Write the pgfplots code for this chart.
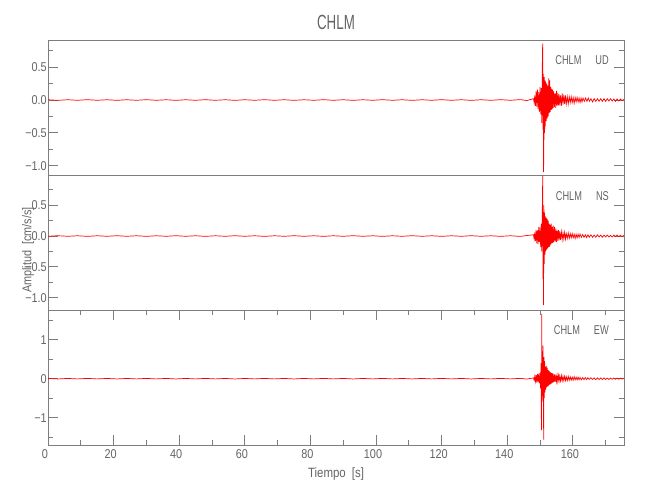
\documentclass[border=0pt]{standalone}
\usepackage{pgfplots}
\pgfplotsset{compat=1.18}
\usepackage{fontspec}
\setmainfont{Liberation Sans}[FakeStretch=0.85]
\newfontfamily\titlefont{Liberation Sans}[FakeStretch=0.65]
\newfontfamily\stafont{Liberation Sans}[FakeStretch=0.72]

\definecolor{axc}{RGB}{125,125,125}
\definecolor{txc}{RGB}{100,100,100}

\pgfplotsset{
  seis/.style={
    scale only axis, width=576pt, height=135pt,
    xmin=0, xmax=175.6,
    axis line style={axc, line width=0.9pt},
    every tick/.style={axc, line width=0.9pt},
    tick align=inside,
    major tick length=10pt, minor tick length=5pt,
    ticklabel style={font=\fontsize{12.8}{14}\selectfont, text=txc},
    yticklabel style={inner sep=0pt, xshift=-1pt},
    xtick=\empty,
    minor xtick={10,20,...,170},
  },
  trace/.style={red, line width=0.7pt},
}

\begin{document}
\begin{tikzpicture}
\useasboundingbox (0,0) rectangle (650pt,500pt);

% UD
\begin{axis}[seis, at={(48pt,325pt)}, anchor=south west,
  ymin=-1.143, ymax=0.915,
  ytick={-1,-0.5,0,0.5}, yticklabels={−1.0,−0.5,0.0,0.5},
  minor ytick={-0.75,-0.25,0.25,0.75}]
\addplot[trace] coordinates {
(0,0.004) (3,-0.005) (6,0.004) (9,-0.004) (12,0.005) (15,-0.004) (18,0.004) (21,-0.005)
(24,0.004) (27,-0.004) (30,0.005) (33,-0.004) (36,0.004) (39,-0.005) (42,0.004) (45,-0.004)
(48,0.005) (51,-0.004) (54,0.004) (57,-0.005) (60,0.004) (63,-0.004) (66,0.005) (69,-0.004)
(72,0.004) (75,-0.005) (78,0.004) (81,-0.004) (84,0.005) (87,-0.004) (90,0.004) (93,-0.005)
(96,0.004) (99,-0.004) (102,0.005) (105,-0.004) (108,0.004) (111,-0.005) (114,0.004) (117,-0.004)
(120,0.005) (123,-0.004) (126,0.004) (129,-0.005) (132,0.004) (135,-0.004) (138,0.005) (141,-0.004)
(144,0.006) (146,-0.008) (148.0,0.02)
(148.2,-0.04) (148.4,0.07) (148.6,-0.09) (148.8,0.13) (149.0,-0.10) (149.2,0.16) (149.4,-0.14)
(149.6,0.12) (149.8,-0.18) (150.0,0.20) (150.2,-0.22) (150.4,0.18) (150.55,-0.35) (150.7,0.55)
(150.8,0.86) (150.9,-0.45) (151.0,0.40) (151.08,-1.10) (151.18,-0.60) (151.28,0.35) (151.4,-0.50)
(151.5,0.30) (151.62,-0.40) (151.75,0.28) (151.9,-0.32) (152.05,0.25) (152.2,-0.28) (152.35,0.22)
(152.5,-0.25) (152.65,0.33) (152.8,-0.20) (152.95,0.30) (153.1,-0.18) (153.25,0.20) (153.4,-0.15)
(153.55,0.17) (153.7,-0.14) (153.85,0.16) (154.0,-0.12) (154.2,0.13) (154.4,-0.11) (154.6,0.10)
(154.8,-0.12) (155.0,0.14) (155.2,-0.09) (155.4,0.11) (155.6,-0.08) (155.8,0.09) (156.0,-0.08)
(156.25,0.07) (156.5,-0.09) (156.75,0.10) (157.0,-0.07) (157.25,0.08) (157.5,-0.06) (157.75,0.07)
(158.0,-0.06) (158.3,0.05) (158.6,-0.06) (158.9,0.05) (159.2,-0.04) (159.5,0.05) (159.8,-0.04)
(160.1,0.04) (160.4,-0.05) (160.7,0.04) (161.0,-0.03) (161.3,0.04) (161.6,-0.03) (161.9,0.03)
(162.2,-0.04) (162.5,0.03) (162.8,-0.03) (163.1,0.03) (163.5,-0.02) (163.9,0.03) (164.3,-0.02)
(164.7,0.03) (165.1,-0.02) (165.5,0.02) (166.0,-0.03) (166.5,0.02) (167.0,-0.02) (167.5,0.02)
(168.0,-0.02) (168.5,0.02) (169.0,-0.02) (169.5,0.02) (170.0,-0.02) (170.5,0.02) (171.0,-0.015)
(171.5,0.02) (172.0,-0.015) (172.5,0.015) (173.0,-0.02) (173.5,0.015) (174.0,-0.015) (174.5,0.015)
(175.0,-0.01) (175.5,0.01)
};
\node[anchor=north east, inner sep=0pt, text=txc, font=\stafont\fontsize{12.8}{14}\selectfont]
  at ([xshift=-15pt,yshift=-15pt]rel axis cs:1,1) {CHLM\hspace{14pt}UD};
\end{axis}

% NS
\begin{axis}[seis, at={(48pt,190pt)}, anchor=south west,
  ymin=-1.2, ymax=0.99,
  ytick={-1,-0.5,0,0.5}, yticklabels={−1.0,−0.5,0.0,0.5},
  minor ytick={-0.75,-0.25,0.25,0.75}]
\addplot[trace] coordinates {
(0,-0.004) (3,0.005) (6,-0.004) (9,0.004) (12,-0.005) (15,0.004) (18,-0.004) (21,0.005)
(24,-0.004) (27,0.004) (30,-0.005) (33,0.004) (36,-0.004) (39,0.005) (42,-0.004) (45,0.004)
(48,-0.005) (51,0.004) (54,-0.004) (57,0.005) (60,-0.004) (63,0.004) (66,-0.005) (69,0.004)
(72,-0.004) (75,0.005) (78,-0.004) (81,0.004) (84,-0.005) (87,0.004) (90,-0.004) (93,0.005)
(96,-0.004) (99,0.004) (102,-0.005) (105,0.004) (108,-0.004) (111,0.005) (114,-0.004) (117,0.004)
(120,-0.005) (123,0.004) (126,-0.004) (129,0.005) (132,-0.004) (135,0.004) (138,-0.005) (141,0.004)
(144,-0.006) (146,0.008) (148.0,0.02)
(148.2,-0.05) (148.4,0.06) (148.6,-0.08) (148.8,0.10) (149.0,-0.12) (149.2,0.09) (149.4,-0.13)
(149.6,0.15) (149.8,-0.10) (150.0,0.14) (150.2,-0.18) (150.4,0.20) (150.55,-0.25) (150.7,0.45)
(150.82,0.98) (150.9,-0.70) (151.0,0.30) (151.07,-1.12) (151.17,0.50) (151.28,-0.45) (151.4,0.38)
(151.5,-0.30) (151.62,0.32) (151.75,-0.25) (151.9,0.30) (152.05,-0.22) (152.2,0.28) (152.35,-0.20)
(152.5,0.25) (152.65,-0.18) (152.8,0.20) (152.95,-0.17) (153.1,0.18) (153.25,-0.14) (153.4,0.20)
(153.55,-0.12) (153.7,0.15) (153.85,-0.11) (154.0,0.17) (154.2,-0.10) (154.4,0.15) (154.6,-0.09)
(154.8,0.12) (155.0,-0.10) (155.2,0.09) (155.4,-0.08) (155.6,0.10) (155.8,-0.07) (156.0,0.08)
(156.25,-0.06) (156.5,0.07) (156.75,-0.06) (157.0,0.05) (157.25,-0.05) (157.5,0.06) (157.75,-0.05)
(158.0,0.04) (158.3,-0.04) (158.6,0.05) (158.9,-0.04) (159.2,0.04) (159.5,-0.03) (159.8,0.04)
(160.1,-0.03) (160.4,0.03) (160.7,-0.04) (161.0,0.03) (161.3,-0.03) (161.6,0.03) (161.9,-0.025)
(162.2,0.03) (162.6,-0.02) (163.0,0.025) (163.4,-0.02) (163.8,0.02) (164.2,-0.025) (164.6,0.02)
(165.0,-0.02) (165.5,0.02) (166.0,-0.02) (166.5,0.015) (167.0,-0.02) (167.5,0.02) (168.0,-0.015)
(168.5,0.015) (169.0,-0.02) (169.5,0.015) (170.0,-0.015) (170.5,0.015) (171.0,-0.015) (171.5,0.01)
(172.0,-0.015) (172.5,0.015) (173.0,-0.01) (173.5,0.015) (174.0,-0.01) (174.5,0.01) (175.0,-0.01)
(175.5,0.01)
};
\node[anchor=north east, inner sep=0pt, text=txc, font=\stafont\fontsize{12.8}{14}\selectfont]
  at ([xshift=-15pt,yshift=-16.5pt]rel axis cs:1,1) {CHLM\hspace{14pt}NS};
\end{axis}

% EW
\begin{axis}[seis, at={(48pt,55pt)}, anchor=south west,
  ymin=-1.70, ymax=1.76,
  ytick={-1,0,1}, yticklabels={−1,0,1},
  minor ytick={-1.5,-0.5,0.5,1.5},
  xtick={0,20,...,160}, minor xtick={10,30,...,170},
  xticklabels={0,20,40,60,80,100,120,140,160},
  xticklabel style={xshift=-3pt, yshift=-1pt}]
\addplot[trace] coordinates {
(0,0.006) (3,-0.007) (6,0.006) (9,-0.006) (12,0.007) (15,-0.006) (18,0.006) (21,-0.007)
(24,0.006) (27,-0.006) (30,0.007) (33,-0.006) (36,0.006) (39,-0.007) (42,0.006) (45,-0.006)
(48,0.007) (51,-0.006) (54,0.006) (57,-0.007) (60,0.006) (63,-0.006) (66,0.007) (69,-0.006)
(72,0.006) (75,-0.007) (78,0.006) (81,-0.006) (84,0.007) (87,-0.006) (90,0.006) (93,-0.007)
(96,0.006) (99,-0.006) (102,0.007) (105,-0.006) (108,0.006) (111,-0.007) (114,0.006) (117,-0.006)
(120,0.007) (123,-0.006) (126,0.006) (129,-0.007) (132,0.006) (135,-0.006) (138,0.007) (141,-0.006)
(144,0.008) (146,-0.01) (148.0,0.02)
(148.2,-0.04) (148.4,0.06) (148.6,-0.07) (148.8,0.09) (149.0,-0.10) (149.2,0.12) (149.4,-0.09)
(149.6,0.13) (149.8,-0.12) (150.0,0.15) (150.15,-0.25) (150.3,0.40) (150.42,-1.32) (150.52,1.66)
(150.62,-0.60) (150.72,0.70) (150.82,-0.45) (150.92,0.85) (151.02,-0.70) (151.12,-1.56) (151.2,0.55)
(151.3,-0.50) (151.4,0.45) (151.5,-0.35) (151.62,0.30) (151.75,-0.28) (151.9,0.32) (152.05,-0.22)
(152.2,0.28) (152.35,-0.20) (152.5,0.22) (152.65,-0.18) (152.8,0.20) (152.95,-0.15) (153.1,0.17)
(153.25,-0.14) (153.4,0.15) (153.55,-0.12) (153.7,0.14) (153.85,-0.10) (154.0,0.12) (154.2,-0.09)
(154.4,0.11) (154.6,-0.08) (154.8,0.10) (155.0,-0.07) (155.2,0.09) (155.4,-0.07) (155.6,0.08)
(155.8,-0.06) (156.0,0.07) (156.25,-0.06) (156.5,0.08) (156.75,-0.06) (157.0,0.06) (157.25,-0.05)
(157.5,0.06) (157.75,-0.05) (158.0,0.05) (158.3,-0.05) (158.6,0.06) (158.9,-0.04) (159.2,0.05)
(159.5,-0.04) (159.8,0.04) (160.1,-0.04) (160.4,0.05) (160.7,-0.03) (161.0,0.04) (161.3,-0.03)
(161.6,0.04) (161.9,-0.03) (162.2,0.03) (162.6,-0.03) (163.0,0.03) (163.4,-0.025) (163.8,0.03)
(164.2,-0.025) (164.6,0.025) (165.0,-0.02) (165.5,0.025) (166.0,-0.02) (166.5,0.02) (167.0,-0.025)
(167.5,0.02) (168.0,-0.02) (168.5,0.02) (169.0,-0.02) (169.5,0.02) (170.0,-0.02) (170.5,0.015)
(171.0,-0.02) (171.5,0.015) (172.0,-0.015) (172.5,0.015) (173.0,-0.015) (173.5,0.015) (174.0,-0.015)
(174.5,0.015) (175.0,-0.01) (175.5,0.01)
};
\node[anchor=north east, inner sep=0pt, text=txc, font=\stafont\fontsize{12.8}{14}\selectfont]
  at ([xshift=-15pt,yshift=-15pt]rel axis cs:1,1) {CHLM\hspace{14pt}EW};
\end{axis}

\node[text=txc, font=\titlefont\fontsize{20.5}{22}\selectfont] at (336pt,477.5pt) {CHLM};
\node[text=txc, font=\fontsize{13.5}{15}\selectfont] at (336pt,26pt) {Tiempo\hspace{6pt}[s]};
\node[text=txc, rotate=90, font=\fontsize{12.8}{14}\selectfont] at (28pt,250pt) {Amplitud\hspace{6pt}[cm/s/s]};
\end{tikzpicture}
\end{document}
